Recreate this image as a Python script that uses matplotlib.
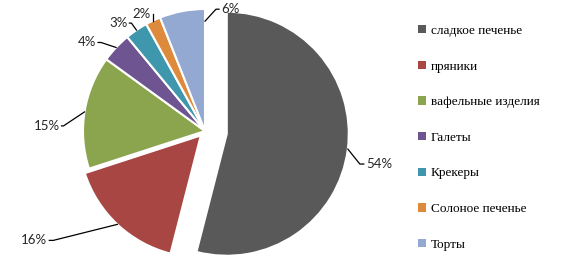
import numpy as np
import matplotlib
matplotlib.use("Agg")
import matplotlib.pyplot as plt
from matplotlib.patches import Patch

categories = ["сладкое печенье", "пряники", "вафельные изделия", "Галеты",
              "Крекеры", "Солоное печенье", "Торты"]
values = [54, 16, 15, 4, 3, 2, 6]
labels = ["54%", "16%", "15%", "4%", "3%", "2%", "6%"]
colors = ["#595959", "#A84644", "#8AA54E", "#6E5490", "#3F97AD", "#DE8A3D", "#93A9D2"]
explode = [0.18, 0.05, 0.0, 0.0, 0.0, 0.0, 0.0]

W, H = 572, 261
R = 122.0
cx, cy = 205.0, 131.0

fig = plt.figure(figsize=(W / 100, H / 100), dpi=100)
ax = fig.add_axes([0, 0, 1, 1])

wedges, _ = ax.pie(values, colors=colors, explode=explode, startangle=90,
                   counterclock=False, radius=1.0,
                   wedgeprops=dict(edgecolor="white", linewidth=1.5))
ax.set_xlim(-cx / R, (W - cx) / R)
ax.set_ylim(-(H - cy) / R, cy / R)
ax.set_aspect("equal")
ax.axis("off")

# leader anchors: (fraction along wedge angle, radius fraction)
anchors = [(0.5, 1.0), (0.5, 1.0), (0.5, 1.0), (0.5, 1.0), (0.5, 1.0), (0.5, 1.0), (0.0, 0.9)]
# text position relative to anchor (px, y up)
text_off = [(18, -15), (-70, -16), (-25, -14), (-20, 5), (-9, 7), (-2, 7), (16, 12)]
elbow = [6, 6, 4, 5, 4, 2, 5]
label_fs = 9.5
for w, lab, ex, anc, off, el in zip(wedges, labels, explode, anchors, text_off, elbow):
    th1, th2 = w.theta1, w.theta2
    mid = np.deg2rad((th1 + th2) / 2)
    c = np.array([np.cos(mid), np.sin(mid)])
    a = np.deg2rad(th1 + anc[0] * (th2 - th1))
    p = c * ex + anc[1] * np.array([np.cos(a), np.sin(a)])
    tx = p[0] + off[0] / R
    ty = p[1] + off[1] / R
    sgn = 1 if off[0] > 0 else -1
    ha = "left" if sgn > 0 else "right"
    ax.plot([p[0], tx - sgn * el / R, tx - sgn * 2 / R],
            [p[1], ty, ty], color="black", lw=0.9)
    ax.text(tx, ty, lab, ha=ha, va="center", fontsize=label_fs,
            family="Lato", color="#262626")

handles = [Patch(facecolor=c, edgecolor="none") for c in colors]
leg = ax.legend(handles, categories, loc="upper left", bbox_to_anchor=(0.714, 0.94),
                frameon=False, labelspacing=1.79, handlelength=0.6, handleheight=0.6,
                handletextpad=0.4, borderpad=0.2,
                prop=dict(family="Liberation Serif", size=9.5))

fig.savefig("out.png", dpi=100)
